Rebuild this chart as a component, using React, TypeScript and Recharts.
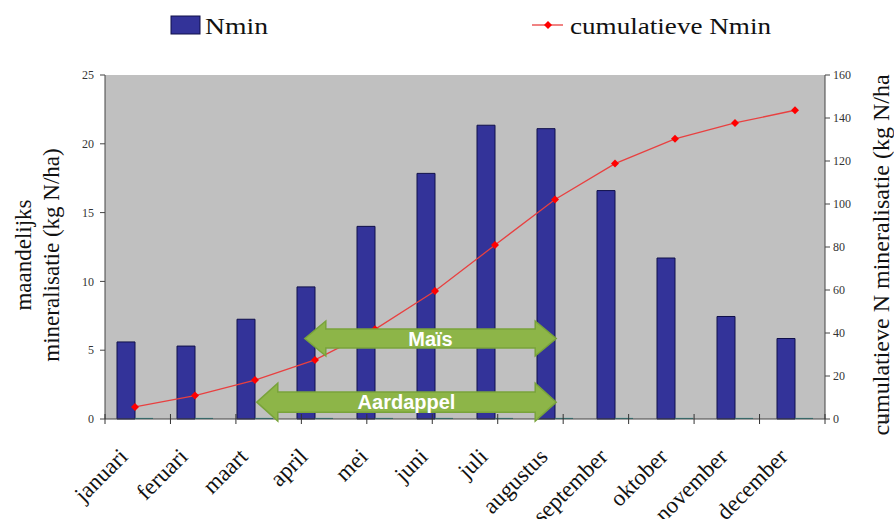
import React from 'react';
import { ComposedChart, Bar, Line, XAxis, YAxis, CartesianGrid, ReferenceArea } from 'recharts';

const maanden = ['januari', 'feruari', 'maart', 'april', 'mei', 'juni', 'juli', 'augustus', 'september', 'oktober', 'november', 'december'];
const nmin = [5.6, 5.3, 7.25, 9.6, 14.0, 17.85, 21.35, 21.1, 16.6, 11.7, 7.45, 5.85];
const nminCumulatief = [5.6, 10.9, 18.1, 27.5, 41.7, 59.5, 80.9, 102.1, 118.8, 130.3, 137.7, 143.6];
// tweede reeks staat vrijwel op nul, alleen een streepje op de as
const nulReeks = [0.08, 0.08, 0.08, 0.08, 0.08, 0.08, 0.08, 0.08, 0.08, 0.08, 0.08, 0.08];

// teeltperiodes in maanden (0 = begin januari)
const teelten = ['Maïs', 'Aardappel'];
const teeltStart = [3.33, 2.53];
const teeltEinde = [7.52, 7.52];

const linksTicks = [0, 5, 10, 15, 20, 25];
const rechtsTicks = [0, 20, 40, 60, 80, 100, 120, 140, 160];
const maandGrenzen = [0, 1, 2, 3, 4, 5, 6, 7, 8, 9, 10, 11, 12];

const data = maanden.map((maand, i) => ({
  maand,
  nmin: nmin[i],
  nul: nulReeks[i],
  cumulatief: nminCumulatief[i],
}));
const grensData = maandGrenzen.map((grens) => ({ grens }));

const serif = '"Liberation Serif", "Times New Roman", serif';
const sans = '"Liberation Sans", Arial, sans-serif';
const marge = { top: 75, right: 9, bottom: 0, left: 45 };

const MaandLabel = ({ x, y, payload }: any) => {
  const ax = x - 6;
  const ay = y + 38;
  return (
    <text
      x={ax}
      y={ay}
      transform={`rotate(-45, ${ax}, ${ay})`}
      textAnchor="end"
      fontFamily={serif}
      fontSize={23}
      fill="#111"
    >
      {payload.value}
    </text>
  );
};

const GrensTick = ({ x, y }: any) => (
  <line x1={x} x2={x} y1={y - 5} y2={y + 5} stroke="#333" strokeWidth={1} />
);

const Ruit = ({ cx, cy }: any) => {
  if (cx == null || cy == null) return null;
  return (
    <polygon
      points={`${cx},${cy - 4} ${cx + 4},${cy} ${cx},${cy + 4} ${cx - 4},${cy}`}
      fill="#ff0000"
    />
  );
};

const pijl = (naam: string) => (props: any) => {
  const { x, y, width, height } = props;
  const kop = 21;
  const inzet = height * 0.23;
  const midden = y + height / 2;
  const punten = [
    [x, midden],
    [x + kop, y],
    [x + kop, y + inzet],
    [x + width - kop, y + inzet],
    [x + width - kop, y],
    [x + width, midden],
    [x + width - kop, y + height],
    [x + width - kop, y + height - inzet],
    [x + kop, y + height - inzet],
    [x + kop, y + height],
  ]
    .map((p) => p.join(','))
    .join(' ');
  return (
    <g>
      <polygon points={punten} fill="#8db548" stroke="#79a33b" strokeWidth={1.5} />
      <text
        x={x + width / 2}
        y={midden}
        dy="0.36em"
        textAnchor="middle"
        fill="#ffffff"
        fontFamily={sans}
        fontWeight="bold"
        fontSize={20}
      >
        {naam}
      </text>
    </g>
  );
};

const linksLabel = ({ viewBox }: any) => {
  const cy = viewBox.y + viewBox.height / 2 + 8;
  return (
    <text transform={`rotate(-90, 0, ${cy})`} x={0} y={cy} fontFamily={serif} fontSize={23} fill="#111" textAnchor="middle">
      <tspan x={0} y={cy + 31}>maandelijks</tspan>
      <tspan x={0} y={cy + 59}>mineralisatie (kg N/ha)</tspan>
    </text>
  );
};

const rechtsLabel = ({ viewBox }: any) => {
  const cy = viewBox.y + viewBox.height / 2 + 8;
  const bx = 889;
  return (
    <text
      transform={`rotate(-90, ${bx}, ${cy})`}
      x={bx}
      y={cy}
      fontFamily={serif}
      fontSize={24}
      fill="#111"
      textAnchor="middle"
    >
      cumulatieve N mineralisatie (kg N/ha
    </text>
  );
};

const Legenda = () => (
  <svg width={894} height={60} style={{ position: 'absolute', left: 0, top: 0 }}>
    <rect x={171} y={16} width={29} height={18} fill="#333399" stroke="#10104a" strokeWidth={1} />
    <text x={205} y={34} fontFamily={serif} fontSize={23} textLength={63} lengthAdjust="spacingAndGlyphs" fill="#111">
      Nmin
    </text>
    <line x1={532} x2={563} y1={25} y2={25} stroke="#e84040" strokeWidth={1.3} />
    <Ruit cx={548} cy={25} />
    <text x={570} y={34} fontFamily={serif} fontSize={23} textLength={201} lengthAdjust="spacingAndGlyphs" fill="#111">
      cumulatieve Nmin
    </text>
  </svg>
);

// doorzichtige laag boven de staven met de teeltpijlen (plotvlak x 105..825)
const TeeltPijlen = () => (
  <div style={{ position: 'absolute', left: 0, top: 0, width: 825, height: 519, pointerEvents: 'none' }}>
    <ComposedChart width={825} height={519} data={grensData} margin={{ top: 75, right: 0, bottom: 100, left: 105 }}>
      <XAxis xAxisId="teelt" dataKey="grens" type="number" domain={[0, 12]} ticks={[0, 12]} allowDataOverflow hide />
      <YAxis yAxisId="teelt" type="number" domain={[0, 25]} ticks={[0, 25]} allowDataOverflow hide />
      {teelten.map((teelt, i) => (
        <ReferenceArea
          key={teelt}
          xAxisId="teelt"
          yAxisId="teelt"
          x1={teeltStart[i]}
          x2={teeltEinde[i]}
          y1={i === 0 ? 4.58 : -0.15}
          y2={i === 0 ? 7.12 : 2.6}
          ifOverflow="visible"
          shape={pijl(teelt)}
        />
      ))}
    </ComposedChart>
  </div>
);

export default function App() {
  return (
    <div style={{ position: 'absolute', left: 0, top: 0, width: 894, height: 519, background: '#fff' }}>
      <ComposedChart
        width={894}
        height={519}
        data={data}
        margin={marge}
        barGap={0}
        barCategoryGap="20%"
      >
        <CartesianGrid xAxisId={1} yAxisId="links" fill="#c0c0c0" horizontal={false} vertical={false} />
        <XAxis
          xAxisId={0}
          type="number"
          domain={[0, 12]}
          ticks={maandGrenzen}
          height={1}
          tickLine={false}
          tickSize={0}
          tickMargin={0}
          tick={<GrensTick />}
          axisLine={{ stroke: '#444' }}
          allowDataOverflow
        />
        <XAxis
          xAxisId={1}
          dataKey="maand"
          height={99}
          axisLine={false}
          tickLine={false}
          tickSize={0}
          tickMargin={0}
          interval={0}
          tick={<MaandLabel />}
        />
        <YAxis
          yAxisId="links"
          width={60}
          domain={[0, 25]}
          ticks={linksTicks}
          tickSize={5}
          tickMargin={6}
          axisLine={{ stroke: '#444' }}
          tickLine={{ stroke: '#444' }}
          tick={{ fontFamily: serif, fontSize: 12, fill: '#333' }}
          label={linksLabel}
        />
        <YAxis
          yAxisId="rechts"
          orientation="right"
          width={60}
          domain={[0, 160]}
          ticks={rechtsTicks}
          tickSize={5}
          tickMargin={3}
          axisLine={{ stroke: '#444' }}
          tickLine={{ stroke: '#444' }}
          tick={{ fontFamily: serif, fontSize: 12, fill: '#333', textAnchor: 'start' }}
          label={rechtsLabel}
        />
        <Bar xAxisId={1} yAxisId="links" dataKey="nmin" name="Nmin" fill="#333399" stroke="#10104a" strokeWidth={1} isAnimationActive={false} />
        <Bar xAxisId={1} yAxisId="links" dataKey="nul" fill="#2e8b8b" isAnimationActive={false} />
        <Line
          xAxisId={1}
          yAxisId="rechts"
          dataKey="cumulatief"
          name="cumulatieve Nmin"
          stroke="#e84040"
          strokeWidth={1.3}
          dot={<Ruit />}
          activeDot={false}
          isAnimationActive={false}
        />
      </ComposedChart>
      <TeeltPijlen />
      <Legenda />
    </div>
  );
}
